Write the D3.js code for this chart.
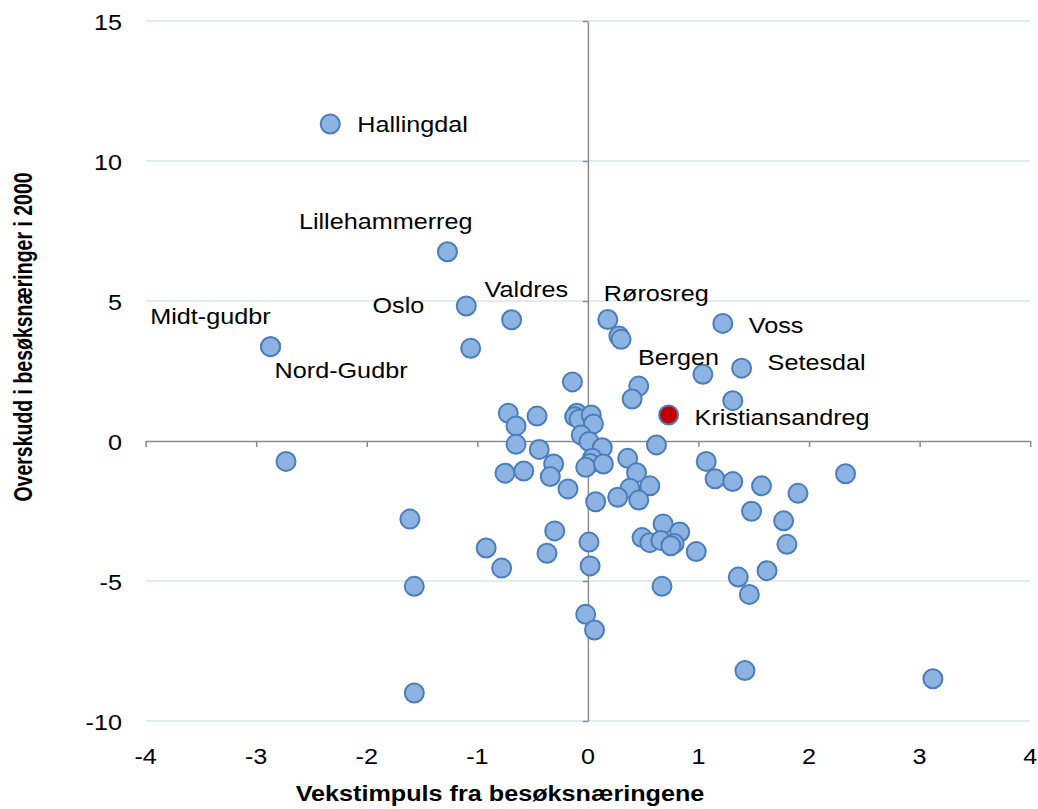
<!DOCTYPE html>
<html>
<head>
<meta charset="utf-8">
<script src="https://cdn.jsdelivr.net/npm/d3@7"></script>
<style>
  body { margin: 0; background: #fff; }
  svg { display: block; font-family: Arial, "Liberation Sans", sans-serif; }
</style>
</head>
<body>
<div id="chart"></div>
<script>
// Scatter: vekstimpuls vs overskudd i besøksnæringer

// Data
const regionNames = ["Hallingdal", "Lillehammerreg", "Oslo", "Valdres", "Midt-gudbr", "Nord-Gudbr", "", "",
  "Rørosreg", "", "", "Voss", "Bergen", "", "", "Setesdal", "", "Kristiansandreg",
  "", "", "", "", "", "", "", "", "", "", "", "", "", "", "", "", "", "", "", "", "", "", "",
  "", "", "", "", "", "", "", "", "", "", "", "", "", "", "", "", "", "", "", "",
  "", "", "", "", "", "", "", "", "", "", "", "", "", "", "", "", "", "", "", "", "", ""];

const impulsX = [-2.33, -1.27, -1.10, -0.69, -2.87, -2.87, -1.06, -0.14,
  0.18, 0.28, 0.30, 1.22, 1.04, 0.46, 0.40, 1.39, 1.31, 0.73,
  -0.72, -0.46, -0.10, -0.12, -0.08, 0.03, 0.05, -0.65, -0.06, 0.01, 0.13, -0.65, 0.62, -0.44, 0.36, -0.31, -0.34, 0.04, 0.02,
  -0.02, 0.14, -0.75, -0.58, 0.44, -0.18, 0.38, 0.56, 0.27, 0.46, 0.07, -1.61, -0.30, -0.92, 0.01, -0.37, -0.78, 0.02,
  -1.57, 0.67, -0.02, 0.06, -1.57, -2.73, 0.68, 0.83, 0.49, 0.56, 0.66, 0.78, 0.75, 0.98, 1.07, 1.15, 1.31, 1.57,
  1.90, 2.33, 1.48, 1.77, 1.80, 1.62, 1.36, 1.46, 1.42, 3.12];

const overskuddY = [11.32, 6.76, 4.82, 4.33, 3.37, 3.37, 3.31, 2.11,
  4.34, 3.75, 3.63, 4.20, 2.38, 1.96, 1.50, 2.60, 1.44, 0.93,
  0.99, 0.89, 0.99, 0.87, 0.78, 0.93, 0.61, 0.54, 0.21, -0.02, -0.24, -0.12, -0.14, -0.30, -0.62, -0.82, -1.27, -0.62, -0.80,
  -0.94, -0.82, -1.15, -1.07, -1.13, -1.71, -1.69, -1.60, -2.01, -2.11, -2.17, -2.79, -3.21, -3.82, -3.61, -4.01, -4.54, -4.46,
  -5.19, -5.19, -6.19, -6.75, -9.00, -0.73, -2.96, -3.25, -3.45, -3.63, -3.55, -3.66, -3.74, -3.95, -0.73, -1.35, -1.45, -1.60,
  -1.87, -1.17, -2.51, -2.85, -3.69, -4.63, -4.86, -5.48, -8.20, -8.49];

const highlighted = "Kristiansandreg";

const xTicks = [-4, -3, -2, -1, 0, 1, 2, 3, 4];
const yTicks = [-10, -5, 0, 5, 10, 15];

const xTitle = "Vekstimpuls fra besøksnæringene";
const yTitle = "Overskudd i besøksnæringer i 2000";

// Layout
const w = 1038, h = 809;
const margin = { left: 145.6, right: 7.8, top: 21, bottom: 88 };
const stretch = 1.12;   // text in the picture is a bit wider than tall
const fontSize = 22.5;

const svg = d3.select("#chart").append("svg")
  .attr("width", w)
  .attr("height", h);

const xScale = d3.scaleLinear().domain([-4, 4]).range([margin.left, w - margin.right]);
const yScale = d3.scaleLinear().domain([-10, 15]).range([h - margin.bottom, margin.top]);

// label placement, relative to the point (px)
const labelPlace = {
  "Hallingdal":      { anchor: "start", dx: 27,  dy: 0 },
  "Lillehammerreg":  { anchor: "end",   dx: 25,  dy: -31 },
  "Oslo":            { anchor: "end",   dx: -42, dy: -1 },
  "Valdres":         { anchor: "start", dx: -27, dy: -31 },
  "Rørosreg":        { anchor: "start", dx: -4,  dy: -26 },
  "Bergen":          { anchor: "start", dx: -65, dy: -17 },
  "Voss":            { anchor: "start", dx: 26,  dy: 2 },
  "Setesdal":        { anchor: "start", dx: 26,  dy: -6 },
  "Kristiansandreg": { anchor: "start", dx: 26,  dy: 2 },
  "Midt-gudbr":      { anchor: "end",   dx: 0,   dy: -31 },
  "Nord-Gudbr":      { anchor: "start", dx: 4,   dy: 23 }
};

function addText(x, y, str, anchor, bold, rotate, size, sx) {
  size = size || fontSize;
  sx = sx || stretch;
  return svg.append("text")
    .attr("transform", "translate(" + x + "," + y + ") scale(" + sx + ",1)" + (rotate ? " rotate(-90)" : ""))
    .attr("text-anchor", anchor)
    .attr("dy", "0.35em")
    .attr("font-size", size)
    .attr("font-weight", bold ? "bold" : "normal")
    .attr("fill", "#000")
    .text(str);
}

// Gridlines
svg.append("g")
  .selectAll("line")
  .data(yTicks.filter(d => d !== 0))
  .enter()
  .append("line")
  .attr("x1", xScale(-4))
  .attr("x2", xScale(4))
  .attr("y1", d => yScale(d))
  .attr("y2", d => yScale(d))
  .attr("stroke", "#dae3f1")
  .attr("stroke-width", 1.5);

// Axes crossing at zero
const x_axis = d3.axisBottom(xScale).tickValues(xTicks).tickSize(6).tickSizeOuter(0).tickFormat("");
const y_axis = d3.axisLeft(yScale).tickValues(yTicks).tickSize(5).tickSizeOuter(0).tickFormat("");

svg.append("g")
  .attr("transform", "translate(0," + yScale(0) + ")")
  .call(x_axis)
  .call(g => g.selectAll("path, line").attr("stroke", "#8c8c8c").attr("stroke-width", 1.5));

svg.append("g")
  .attr("transform", "translate(" + xScale(0) + ",0)")
  .call(y_axis)
  .call(g => g.selectAll("path, line").attr("stroke", "#8c8c8c").attr("stroke-width", 1.5));

// Tick labels
xTicks.forEach(t => addText(xScale(t), 756, t, "middle", false, false));
yTicks.forEach(t => addText(122, yScale(t) + 1, t, "end", false, false));

// Axis titles (the vertical one is condensed along its length)
addText(500, 793, xTitle, "middle", true, false);
addText(23, 337, yTitle, "middle", true, true, 19.5, 1.28);

// Points
const points = impulsX.map((x, i) => ({ x: x, y: overskuddY[i], name: regionNames[i] }));

svg.append("g")
  .selectAll("circle")
  .data(points)
  .enter()
  .append("circle")
  .attr("cx", d => xScale(d.x))
  .attr("cy", d => yScale(d.y))
  .attr("r", 9.5)
  .attr("fill", d => d.name === highlighted ? "#c00000" : "#8db3e2")
  .attr("stroke", "#4a7ebb")
  .attr("stroke-width", 2);

// Labels
points.filter(d => d.name !== "").forEach(d => {
  const p = labelPlace[d.name];
  addText(xScale(d.x) + p.dx, yScale(d.y) + p.dy, d.name, p.anchor, false, false);
});
</script>
</body>
</html>
